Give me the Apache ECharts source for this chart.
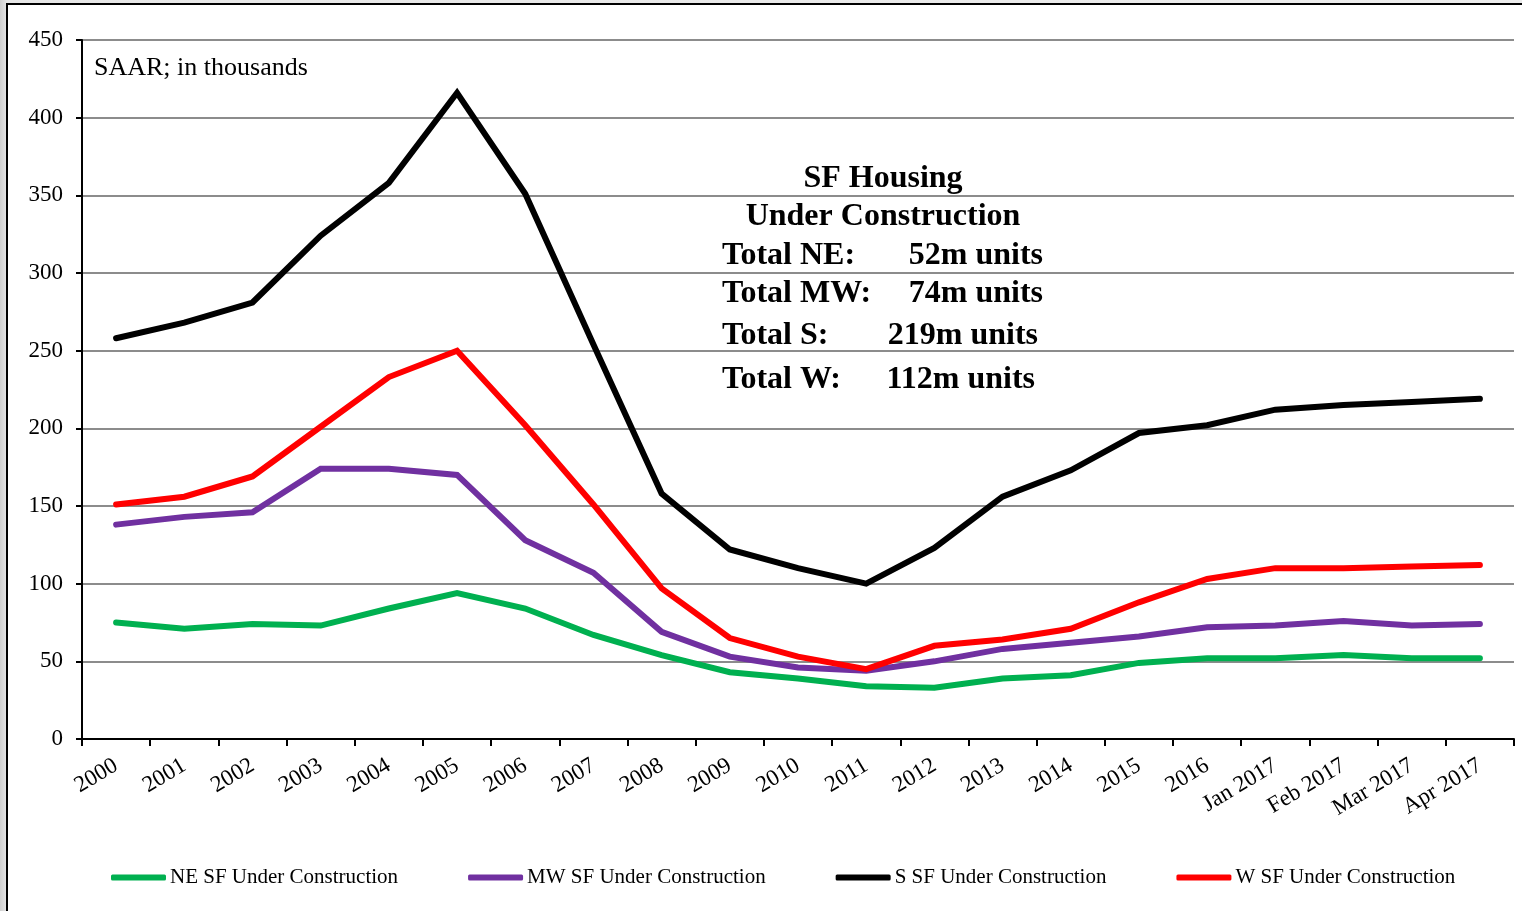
<!DOCTYPE html>
<html>
<head>
<meta charset="utf-8">
<script src="https://cdn.jsdelivr.net/npm/echarts@6/dist/echarts.min.js"></script>
<style>
  html, body { margin: 0; padding: 0; }
  body { background: linear-gradient(90deg, #cfcfcf 0px, #e6e6e6 7px, #ececec 100%); }
  #chart { width: 1522px; height: 911px; }
</style>
</head>
<body>
<div id="chart"></div>
<script>
const categories = ['2000', '2001', '2002', '2003', '2004', '2005', '2006', '2007', '2008', '2009',
  '2010', '2011', '2012', '2013', '2014', '2015', '2016', 'Jan 2017', 'Feb 2017', 'Mar 2017', 'Apr 2017']

// SAAR, thousands of units
const neValues = [75, 71, 74, 73, 84, 94, 84, 67, 54, 43, 39, 34, 33, 39, 41, 49, 52, 52, 54, 52, 52]
const mwValues = [138, 143, 146, 174, 174, 170, 128, 107, 69, 53, 46, 44, 50, 58, 62, 66, 72, 73, 76, 73, 74]
const sValues = [258, 268, 281, 324, 358, 416, 351, 254, 158, 122, 110, 100, 123, 156, 173, 197, 202, 212, 215, 217, 219]
const wValues = [151, 156, 169, 201, 233, 250, 202, 151, 97, 65, 53, 45, 60, 64, 71, 88, 103, 110, 110, 111, 112]

const yTicks = { min: 0, max: 450, step: 50 }

const totals = [
  ['Total NE:', '52m units'],
  ['Total MW:', '74m units'],
  ['Total S:', '219m units'],
  ['Total W:', '112m units']
]

const serif = "'Liberation Serif', 'Times New Roman', serif"

const mkSeries = (name, data, color) => ({
  name: name,
  type: 'line',
  data: data,
  showSymbol: false,
  symbol: 'none',
  lineStyle: { color: color, width: 6, cap: 'round', join: 'miter' },
  itemStyle: { color: color },
  emphasis: { disabled: true },
  animation: false
})

// positions of the totals block (label column / value column, right-aligned values)
const totalsRows = [
  { y: 256, valueX: 1043 },
  { y: 294, valueX: 1043 },
  { y: 336, valueX: 1038 },
  { y: 380, valueX: 1035 }
]

const boldText = (text, x, y, align) => ({
  type: 'text',
  x: x,
  y: y,
  z: 100,
  style: {
    text: text,
    fill: '#000',
    font: 'bold 32px ' + serif,
    align: align,
    verticalAlign: 'middle'
  }
})

const graphics = [
  {
    type: 'rect',
    z: -100,
    shape: { x: 7, y: 4, width: 1540, height: 940 },
    style: { fill: '#fff', stroke: '#000', lineWidth: 2 }
  },
  {
    type: 'text',
    x: 94,
    y: 68,
    z: 100,
    style: { text: 'SAAR; in thousands', fill: '#000', font: '26px ' + serif, verticalAlign: 'middle' }
  },
  boldText('SF Housing', 883, 179, 'center'),
  boldText('Under Construction', 883, 217, 'center')
]
totals.forEach((t, i) => {
  graphics.push(boldText(t[0], 722, totalsRows[i].y, 'left'))
  graphics.push(boldText(t[1], totalsRows[i].valueX, totalsRows[i].y, 'right'))
})

const chart = echarts.init(document.getElementById('chart'), null, { renderer: 'canvas' })

chart.setOption({
  backgroundColor: 'transparent',
  animation: false,
  textStyle: { fontFamily: serif },
  grid: { left: 82, right: 8, top: 40, bottom: 172, containLabel: false },
  legend: {
    left: 111,
    top: 867,
    padding: 0,
    itemWidth: 55,
    itemHeight: 6,
    itemGap: 70,
    icon: 'roundRect',
    textStyle: { fontFamily: serif, fontSize: 21, color: '#000', padding: [0, 0, 0, -1] },
    data: ['NE SF Under Construction', 'MW SF Under Construction', 'S SF Under Construction', 'W SF Under Construction']
  },
  xAxis: {
    type: 'category',
    data: categories,
    boundaryGap: true,
    axisLine: { lineStyle: { color: '#000', width: 2 } },
    axisTick: { show: true, length: 7, lineStyle: { color: '#000', width: 2 } },
    axisLabel: {
      interval: 0,
      rotate: 31,
      margin: 25,
      fontFamily: serif,
      fontSize: 23,
      color: '#000'
    },
    splitLine: { show: false }
  },
  yAxis: {
    type: 'value',
    min: yTicks.min,
    max: yTicks.max,
    interval: yTicks.step,
    axisLine: { show: true, lineStyle: { color: '#000', width: 2 } },
    axisTick: { show: true, length: 6, lineStyle: { color: '#000', width: 2 } },
    axisLabel: { fontFamily: serif, fontSize: 23, color: '#000', margin: 19 },
    splitLine: { lineStyle: { color: '#8c8c8c', width: 2 } }
  },
  graphic: graphics,
  series: [
    mkSeries('NE SF Under Construction', neValues, '#00B050'),
    mkSeries('MW SF Under Construction', mwValues, '#7030A0'),
    mkSeries('S SF Under Construction', sValues, '#000000'),
    mkSeries('W SF Under Construction', wValues, '#FF0000')
  ]
})
</script>
</body>
</html>
